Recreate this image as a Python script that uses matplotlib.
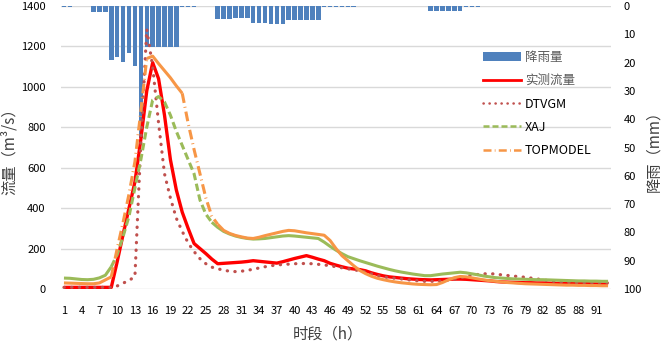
import numpy as np
import matplotlib
matplotlib.use("Agg")
import matplotlib.pyplot as plt
from matplotlib.patches import Patch
from matplotlib.lines import Line2D

plt.rcParams['font.family'] = ['Noto Sans CJK SC', 'DejaVu Sans']

# time steps 1..93 (h)
periods = np.arange(1, 94)
xtick_labels = [str(p) for p in periods[::3]]

# rainfall (mm)
rain = [0.5, 0.5, 0, 0, 0, 2.2, 2.2, 2.2,
        19.1, 18.1, 19.9, 16.7, 21.1, 46.6,
        14.4, 14.4, 14.4, 14.4, 14.4, 14.4,
        0.5, 0.5, 0.5, 0, 0, 0,
        4.6, 4.6, 4.6, 4.4, 4.4, 4.4, 6.0, 6.0, 6.0,
        6.2, 6.2, 6.2, 5.1, 5.1, 5.1, 4.8, 4.8, 4.8,
        0.5, 0.5, 0.5, 0.5, 0.5, 0.5,
        0, 0, 0, 0, 0, 0, 0, 0, 0, 0, 0, 0,
        1.8, 1.8, 1.8, 1.8, 1.8, 1.8, 0.5, 0.5, 0.5,
        0, 0, 0, 0, 0, 0, 0, 0, 0, 0, 0,
        0, 0, 0, 0, 0, 0, 0, 0, 0, 0, 0]

# flows (m3/s)
observed = [8, 8, 8, 8, 8, 8, 8, 8, 8,
            135, 270, 400, 530, 740, 980, 1120,
            1040, 860, 640, 490, 380, 300, 225,
            200, 175, 148, 125,
            127, 129, 131, 133, 136, 140, 137, 134, 131, 128,
            135, 143, 151, 158, 165, 157, 148, 140,
            127, 118, 110, 103, 99, 96, 90, 80, 72, 65,
            60, 57, 54, 51, 49, 47, 46, 45,
            46, 47, 48, 49, 49, 48, 46, 44, 42, 40,
            37, 35, 34, 33, 32, 31, 31, 30, 30, 29,
            28, 28, 27, 27, 26, 26, 26, 25, 25, 25]

dtvgm = [8, 8, 8, 8, 8, 8, 8, 8, 8, 15,
         29, 42, 62,
         720, 1285, 1100, 820, 570, 450, 350,
         285, 228, 185, 150, 125, 108, 100,
         93, 88, 86, 88, 92, 98, 104, 110, 115, 119,
         121, 123, 125, 126, 126, 125, 122, 119,
         115, 110, 105, 100, 95, 90, 84, 75, 66, 60,
         56, 53, 50, 46, 43, 40, 38, 38,
         38, 40, 44, 48, 55, 62, 68, 72, 75, 76,
         74, 70, 67, 64, 61, 58, 54, 50, 45, 41,
         37, 34, 33, 32, 31, 31, 30, 30, 30, 30]

xaj = [54, 53, 50, 47, 46, 48, 55, 68,
       110, 170, 260, 360, 500, 640, 800,
       935, 952, 925, 860, 780, 710, 640, 570,
       440, 370, 330, 305,
       285, 272, 262, 255, 250, 247, 248, 250, 254, 258,
       262, 264, 262, 259, 256, 253, 250, 232,
       211, 192, 175, 160, 150, 140, 131, 122, 113, 105,
       97, 90, 84, 79, 74, 70, 66, 66,
       70, 74, 77, 80, 83, 80, 75, 70, 64, 60,
       56, 54, 52, 50, 49, 48, 47, 46, 46, 45,
       44, 43, 42, 41, 40, 40, 39, 39, 38, 38]

topmodel = [30, 29, 28, 27, 26, 26, 30, 45,
            60, 200, 330, 470, 630, 880, 1140,
            1152, 1115, 1080, 1045, 1005, 968, 820, 690,
            570, 450, 360, 320,
            290, 275, 265, 258, 252, 250, 256, 264, 271, 278,
            285, 290, 288, 283, 278, 274, 270, 266,
            240, 200, 165, 140, 115, 92, 76, 63, 53, 46,
            40, 35, 31, 28, 25, 23, 22, 21,
            22, 32, 45, 56, 62, 60, 55, 50, 45, 41,
            38, 35, 32, 30, 28, 26, 25, 24, 23, 22,
            21, 20, 19, 19, 18, 18, 17, 17, 16, 16]

DOT = (0, (0.1, 2.3))
DASH = (0, (2.4, 1.2))
DASHDOT = (0, (3.2, 1.3, 0.3, 1.3))


def draw_pieces(ax, y, pieces, color, lw=2.2, cap='butt'):
    y = np.asarray(y)
    for a, b, ls in pieces:
        ax.plot(periods[a - 1:b], y[a - 1:b], color=color, lw=lw, ls=ls,
                dash_capstyle=cap, solid_capstyle='butt', solid_joinstyle='round')


fig = plt.figure(figsize=(6.61, 3.46), dpi=100)
ax = fig.add_axes([61 / 661, 1 - 289 / 346, 550 / 661, 283 / 346])
ax2 = ax.twinx()
ax.set_zorder(ax2.get_zorder() + 1)
ax.patch.set_visible(False)

# gridlines under the bars
for f in range(0, 1401, 200):
    ax2.plot([0, 1], [f, f], transform=ax.get_yaxis_transform(),
             color='#D9D9D9', lw=1, zorder=0.5)

ax2.bar(periods, rain, width=0.76, color='#4F81BD', zorder=2)
ax2.set_ylim(100, 0)
ax2.set_yticks(range(0, 101, 10))

draw_pieces(ax, observed, [(1, 93, '-')], '#FF0000', lw=2.4)
draw_pieces(ax, dtvgm, [(1, 93, DOT)], '#C0504D', lw=2.3, cap='round')
draw_pieces(ax, xaj, [(1, 9, '-'), (9, 26, DASH), (26, 93, '-')], '#9BBB59')
draw_pieces(ax, topmodel, [(1, 9, '-'), (9, 15, DASHDOT), (15, 21, '-'),
                           (21, 27, DASHDOT), (27, 93, '-')], '#F79646')

ax.set_xlim(0.5, 93.5)
ax.set_ylim(0, 1400)
ax.set_yticks(range(0, 1401, 200))
ax.set_xticks(periods[::3])
ax.set_xticklabels(xtick_labels)

for a in (ax, ax2):
    for s in a.spines.values():
        s.set_visible(False)
ax.tick_params(axis='both', length=0, labelsize=8, labelcolor='black')
ax.tick_params(axis='y', pad=11)
ax.tick_params(axis='x', pad=12)
ax2.tick_params(axis='y', length=0, labelsize=8, labelcolor='black', pad=9)

ax.set_xlabel('时段（h）', fontsize=11, color='#404040')
ax.xaxis.set_label_coords(0.485, -0.13)
ax.set_ylabel('流量（m³/s）', fontsize=11, color='#404040')
ax.yaxis.set_label_coords(-0.078, 0.5)
ax2.set_ylabel('降雨（mm）', fontsize=11, color='#404040')
ax2.yaxis.set_label_coords(1.062, 0.5)

handles = [Patch(facecolor='#4F81BD'),
           Line2D([], [], color='#FF0000', lw=2),
           Line2D([], [], color='#C0504D', lw=1.8, ls=DOT, dash_capstyle='round'),
           Line2D([], [], color='#9BBB59', lw=1.8, ls=DASH),
           Line2D([], [], color='#F79646', lw=1.8, ls=DASHDOT)]
names = ['降雨量', '实测流量', 'DTVGM', 'XAJ', 'TOPMODEL']
leg = fig.legend(handles, names, loc='upper left', bbox_to_anchor=(483 / 661, 1 - 51 / 346),
                 frameon=False, fontsize=9, handlelength=3.0, handletextpad=0.35,
                 labelspacing=0.82, borderpad=0, borderaxespad=0)
for t, n in zip(leg.get_texts(), names):
    t.set_color('#595959' if not n.isascii() else 'black')

fig.savefig('out.png', dpi=100)
